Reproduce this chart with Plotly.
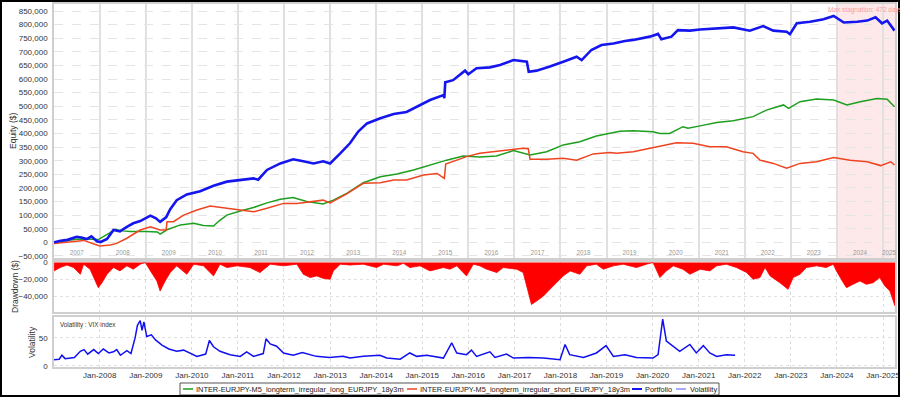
import pandas as pd
import plotly.graph_objects as go

# ---------------- data ----------------
# decimal year, equity in thousands of $
portfolio_t = [2007.01, 2007.15, 2007.3, 2007.5, 2007.6, 2007.72, 2007.82, 2007.94, 2008.02, 2008.16,
               2008.3, 2008.44, 2008.59, 2008.73, 2008.88, 2009.1, 2009.22, 2009.31, 2009.44, 2009.53,
               2009.67, 2009.89, 2010.18, 2010.47, 2010.76, 2011.05, 2011.34, 2011.44, 2011.63, 2011.92,
               2012.2, 2012.42, 2012.64, 2012.85, 2013.0, 2013.22, 2013.43, 2013.61, 2013.8, 2014.09,
               2014.38, 2014.66, 2014.88, 2015.17, 2015.46, 2015.48, 2015.5, 2015.67, 2015.93, 2016.0,
               2016.18, 2016.47, 2016.69, 2016.98, 2017.27, 2017.31, 2017.48, 2017.77, 2018.06, 2018.35,
               2018.46, 2018.67, 2018.89, 2019.15, 2019.4, 2019.58, 2019.94, 2020.12, 2020.19, 2020.41,
               2020.55, 2020.81, 2021.03, 2021.39, 2021.75, 2022.11, 2022.4, 2022.62, 2022.91, 2022.98,
               2023.13, 2023.42, 2023.71, 2023.93, 2024.15, 2024.44, 2024.66, 2024.84, 2024.98, 2025.09,
               2025.25]
portfolio_v = [0, 6, 9, 20, 18, 12, 22, 4, 1, 12,
               45, 40, 57, 70, 78, 98, 88, 75, 92, 122,
               155, 176, 188, 208, 223, 229, 235, 230, 266, 290,
               305, 298, 290, 298, 290, 327, 364, 407, 437, 456,
               472, 479, 498, 523, 541, 530, 588, 596, 631, 618,
               640, 643, 652, 670, 664, 627, 631, 646, 664, 682,
               670, 707, 725, 731, 740, 744, 756, 766, 746, 756,
               780, 778, 782, 786, 790, 778, 795, 778, 774, 765,
               805, 811, 820, 832, 808, 811, 815, 827, 805, 815,
               778]

long_t = [2007.01, 2007.3, 2007.5, 2007.86, 2007.97, 2008.2, 2008.34, 2008.5, 2008.66, 2009.0,
          2009.25, 2009.31, 2009.46, 2009.75, 2010.04, 2010.25, 2010.47, 2010.6, 2010.76, 2011.05,
          2011.34, 2011.63, 2011.92, 2012.2, 2012.49, 2012.85, 2013.07, 2013.36, 2013.72, 2014.09,
          2014.45, 2014.81, 2015.17, 2015.53, 2015.89, 2016.25, 2016.61, 2016.98, 2017.34, 2017.7,
          2018.06, 2018.42, 2018.78, 2019.29, 2019.58, 2020.01, 2020.16, 2020.37, 2020.66, 2020.77,
          2021.03, 2021.39, 2021.75, 2022.18, 2022.47, 2022.84, 2022.95, 2023.2, 2023.56, 2023.93,
          2024.22, 2024.51, 2024.87, 2025.09, 2025.25]
long_v = [0, 8, 11, 11, 10, 33, 48, 42, 40, 40,
          38, 30, 46, 64, 70, 62, 60, 80, 100, 115,
          128, 145, 158, 165, 150, 141, 155, 180, 219, 241,
          251, 266, 284, 302, 317, 314, 317, 337, 321, 333,
          358, 370, 391, 408, 410, 406, 400, 400, 425, 419,
          428, 440, 447, 462, 486, 505, 492, 517, 527, 523,
          505, 517, 529, 526, 498]

short_t = [2007.01, 2007.3, 2007.65, 2007.94, 2008.01, 2008.23, 2008.37, 2008.59, 2008.88, 2009.1,
           2009.31, 2009.44, 2009.46, 2009.6, 2009.82, 2010.11, 2010.4, 2010.76, 2011.05, 2011.34,
           2011.63, 2011.99, 2012.28, 2012.49, 2012.85, 2013.0, 2013.36, 2013.72, 2014.09, 2014.38,
           2014.66, 2015.03, 2015.32, 2015.48, 2015.51, 2015.75, 2015.96, 2016.25, 2016.54, 2016.9,
           2017.19, 2017.3, 2017.34, 2017.7, 2018.06, 2018.35, 2018.71, 2019.07, 2019.22, 2019.58,
           2020.09, 2020.52, 2020.88, 2021.24, 2021.6, 2021.96, 2022.18, 2022.33, 2022.62, 2022.91,
           2023.2, 2023.56, 2023.93, 2024.29, 2024.66, 2024.95, 2025.17, 2025.25]
short_v = [-4, 2, 7, -10, -14, -10, -4, 15, 45, 57,
           45, 45, 76, 76, 100, 119, 133, 125, 119, 112,
           125, 143, 143, 148, 155, 145, 178, 217, 219, 229,
           229, 247, 253, 235, 288, 302, 315, 327, 333, 339,
           346, 344, 305, 305, 309, 302, 325, 330, 327, 333,
           351, 366, 364, 351, 351, 333, 327, 302, 290, 272,
           290, 296, 312, 302, 296, 282, 296, 284]

# portfolio drawdown, thousands of $
dd_t = [2007.01, 2007.14, 2007.29, 2007.43, 2007.58, 2007.65, 2007.79, 2007.90, 2007.97, 2008.05,
        2008.16, 2008.30, 2008.44, 2008.59, 2008.73, 2008.88, 2008.99, 2009.10, 2009.24, 2009.31,
        2009.42, 2009.53, 2009.67, 2009.89, 2010.04, 2010.25, 2010.47, 2010.61, 2010.76, 2010.98,
        2011.26, 2011.48, 2011.70, 2011.99, 2012.28, 2012.42, 2012.57, 2012.71, 2012.86, 2013.00,
        2013.07, 2013.22, 2013.43, 2013.72, 2014.01, 2014.16, 2014.45, 2014.59, 2014.73, 2014.95,
        2015.17, 2015.46, 2015.60, 2015.75, 2015.96, 2016.11, 2016.25, 2016.40, 2016.62, 2016.76,
        2017.05, 2017.19, 2017.30, 2017.37, 2017.48, 2017.63, 2017.77, 2017.92, 2018.06, 2018.21,
        2018.42, 2018.57, 2018.78, 2018.93, 2019.15, 2019.36, 2019.65, 2019.87, 2020.01, 2020.16,
        2020.30, 2020.45, 2020.66, 2020.81, 2021.03, 2021.24, 2021.39, 2021.60, 2021.82, 2022.04,
        2022.18, 2022.33, 2022.44, 2022.55, 2022.76, 2022.94, 2023.05, 2023.20, 2023.34, 2023.56,
        2023.77, 2023.92, 2023.99, 2024.14, 2024.21, 2024.35, 2024.50, 2024.64, 2024.79, 2024.93,
        2025.04, 2025.15, 2025.26]
dd_v = [-10, -6, -3, -6, -14, -2, -8, -22, -30, -24,
        -14, -6, -10, -4, -8, -2, 0, -10, -22, -34,
        -22, -12, -4, -14, -2, -4, -16, -2, -6, -4,
        -6, -12, -2, -4, -2, -14, -18, -16, -19, -20,
        -10, -2, -3, -2, -6, -2, -4, -1, -6, -4,
        -10, -6, -8, -4, -16, -2, -4, -8, -12, -6,
        -8, -12, -34, -50, -46, -40, -32, -24, -16, -10,
        -14, -4, -2, -8, -4, -2, -6, -2, 0, -18,
        -10, -4, -8, -14, -8, -10, -4, -2, -6, -12,
        -20, -18, -6, -16, -24, -32, -18, -14, -6, -4,
        -6, -2, -10, -24, -30, -26, -22, -26, -24, -18,
        -28, -34, -52]

# VIX index
vix_t = [2007.01, 2007.12, 2007.18, 2007.25, 2007.45, 2007.58, 2007.66, 2007.74, 2007.87, 2007.97,
         2008.08, 2008.2, 2008.3, 2008.37, 2008.45, 2008.59, 2008.68, 2008.77, 2008.82, 2008.88,
         2008.92, 2008.96, 2009.02, 2009.12, 2009.21, 2009.35, 2009.5, 2009.67, 2009.82, 2009.97,
         2010.11, 2010.3, 2010.38, 2010.47, 2010.61, 2010.83, 2011.05, 2011.19, 2011.34, 2011.55,
         2011.61, 2011.7, 2011.84, 2011.99, 2012.2, 2012.4, 2012.7, 2012.99, 2013.28, 2013.43,
         2013.72, 2014.08, 2014.23, 2014.52, 2014.73, 2014.88, 2015.1, 2015.46, 2015.64, 2015.75,
         2015.96, 2016.07, 2016.18, 2016.47, 2016.58, 2016.83, 2016.98, 2017.3, 2017.63, 2017.99,
         2018.1, 2018.2, 2018.5, 2018.78, 2018.99, 2019.15, 2019.4, 2019.65, 2020.01, 2020.12,
         2020.22, 2020.3, 2020.45, 2020.59, 2020.81, 2020.95, 2021.1, 2021.24, 2021.39, 2021.6,
         2021.79]
vix_v = [11, 12, 19, 13, 15, 26, 29, 21, 29, 22,
         30, 23, 25, 29, 19, 27, 22, 50, 72, 80,
         63, 78, 52, 55, 46, 37, 30, 26, 28, 22,
         17, 21, 45, 34, 26, 20, 17, 25, 17, 22,
         48, 39, 35, 23, 19, 24, 17, 15, 17, 14,
         17, 19, 14, 12, 23, 17, 19, 14, 41, 23,
         20, 28, 17, 25, 15, 21, 14, 15, 14, 11,
         38, 20, 15, 23, 36, 17, 20, 15, 14, 20,
         83, 44, 35, 26, 38, 23, 36, 23, 17, 20,
         19]

years = list(range(2007, 2026))
names = ["INTER-EURJPY-M5_longterm_irregular_long_EURJPY_18y3m",
         "INTER-EURJPY-M5_longterm_irregular_short_EURJPY_18y3m",
         "Portfolio", "Volatility"]
axis_titles = ["Equity ($)", "Drawdown ($)", "Volatility"]
x_start, x_end = "2007-01-04", "2025-04-06"
stagnation_start = "2023-12-30"
stagnation_text = "Max stagnation: 472 days"


def to_date(d):
    y = int(d)
    return pd.Timestamp(year=y, month=1, day=1) + pd.Timedelta(days=(d - y) * 365.25)


def dates(lst):
    return [to_date(d) for d in lst]


def k(lst):
    return [v * 1000 for v in lst]


# year label positions: middle of the visible part of each year
xs, xe = pd.Timestamp(x_start), pd.Timestamp(x_end)
year_mid = []
for y in years:
    a = max(pd.Timestamp(year=y, month=1, day=1), xs)
    b = min(pd.Timestamp(year=y + 1, month=1, day=1), xe)
    year_mid.append(a + (b - a) / 2)
year_start = [pd.Timestamp(year=y, month=1, day=1) for y in years[1:]]

FONT = "Liberation Sans, Arial, sans-serif"
GREEN, RED, BLUE, LIGHTBLUE = "#1e9e1e", "#ee4420", "#1515ee", "#8c8cff"
series_colors = [GREEN, RED, BLUE, LIGHTBLUE]

fig = go.Figure()
fig.add_trace(go.Scatter(x=dates(long_t), y=k(long_v), name=names[0], mode="lines",
                         line=dict(color=GREEN, width=1.5), xaxis="x", yaxis="y"))
fig.add_trace(go.Scatter(x=dates(short_t), y=k(short_v), name=names[1], mode="lines",
                         line=dict(color=RED, width=1.5), xaxis="x", yaxis="y"))
fig.add_trace(go.Scatter(x=dates(portfolio_t), y=k(portfolio_v), name=names[2], mode="lines",
                         line=dict(color=BLUE, width=2.6), xaxis="x", yaxis="y"))
fig.add_trace(go.Scatter(x=dates(dd_t), y=k(dd_v), mode="lines", fill="tozeroy",
                         fillcolor="#ff0000", line=dict(color="#ff0000", width=0.8),
                         name="Drawdown", xaxis="x2", yaxis="y2"))
fig.add_trace(go.Scatter(x=dates(vix_t), y=vix_v, mode="lines", name=names[3],
                         line=dict(color="#1010f0", width=1.5), xaxis="x3", yaxis="y3"))

ML, MR, MT, MB = 54, 5, 4, 30
W, H = 900, 397
pw, ph = W - ML - MR, H - MT - MB


def dom(top_px, bot_px):
    return [(H - MB - bot_px) / ph, (H - MB - top_px) / ph]


def px_x(px):
    return (px - ML) / pw


def px_y(py):
    return (H - MB - py) / ph


tickfont = dict(family=FONT, size=8, color="#333333")
titlefont = dict(family=FONT, size=8.5, color="#333333")
border = dict(showline=True, mirror=True, linecolor="#cfcfcf", linewidth=1.5, automargin=False)

fig.update_layout(
    width=W, height=H,
    margin=dict(l=ML, r=MR, t=MT, b=MB, autoexpand=False),
    paper_bgcolor="white", plot_bgcolor="white",
    font=dict(family=FONT, size=8, color="#333333"),
    showlegend=False,
    xaxis=dict(domain=[0, 1], anchor="y", range=[x_start, x_end], type="date",
               tickmode="array", tickvals=year_mid, ticktext=[str(y) for y in years],
               ticklabelposition="inside", ticklabeloverflow="allow", ticks="",
               tickfont=dict(family=FONT, size=6.3, color="#999999"),
               showgrid=False, zeroline=False,
               minor=dict(tickmode="array", tickvals=year_start, showgrid=True,
                          gridcolor="#e0e0e0", gridwidth=1.5, ticks=""),
               **border),
    yaxis=dict(domain=dom(4, 258), anchor="x", range=[-57700, 876000], dtick=50000,
               tickformat=",", tickfont=tickfont, ticks="outside", ticklen=3,
               tickcolor="rgba(0,0,0,0)", gridcolor="#e4e4e4", griddash="dash",
               zeroline=False, **border),
    xaxis2=dict(domain=[0, 1], anchor="y2", range=[x_start, x_end], type="date",
                tick0="2008-01-01", dtick="M12", showticklabels=False, ticks="",
                showgrid=True, gridcolor="#dddddd", griddash="dot", zeroline=False,
                **border),
    yaxis2=dict(domain=dom(262, 312), anchor="x2", range=[-59000, 600],
                tickvals=[0, -20000, -40000], tickformat=",", tickfont=tickfont,
                ticks="outside", ticklen=3, tickcolor="rgba(0,0,0,0)",
                gridcolor="#e0e0e0", griddash="dot", zeroline=False, **border),
    xaxis3=dict(domain=[0, 1], anchor="y3", range=[x_start, x_end], type="date",
                tick0="2008-01-01", dtick="M12", tickformat="%b-%Y", tickfont=tickfont,
                ticks="", ticklabeloverflow="allow", showgrid=True, gridcolor="#dddddd",
                griddash="dot", zeroline=False, **border),
    yaxis3=dict(domain=dom(317, 367), anchor="x3", range=[-1.8, 86.6],
                tickvals=[0, 50], tickfont=tickfont, ticks="outside", ticklen=3,
                tickcolor="rgba(0,0,0,0)", gridcolor="#e0e0e0", griddash="dot",
                zeroline=False, **border),
)

# axis titles, placed where the reference has them
for text, cx, cy in zip(axis_titles, [13, 15, 32], [131, 287, 342]):
    fig.add_annotation(xref="paper", yref="paper", x=px_x(cx), y=px_y(cy),
                       xanchor="center", yanchor="middle", textangle=-90, text=text,
                       showarrow=False, font=titlefont)

# stagnation zone
fig.add_shape(type="rect", xref="x", yref="y domain", x0=stagnation_start, x1=x_end,
              y0=0, y1=1, fillcolor="#fde9e9", line=dict(width=0), layer="below")
fig.add_annotation(xref="paper", yref="paper", x=px_x(826), y=px_y(10),
                   xanchor="left", yanchor="middle", text=stagnation_text, showarrow=False,
                   font=dict(family=FONT, size=6.5, color="#ff9c9c"))
fig.add_annotation(xref="x3 domain", yref="y3 domain", x=0.005, y=0.96,
                   xanchor="left", yanchor="top", text="Volatility : VIX index",
                   showarrow=False, font=dict(family=FONT, size=6.3, color="#333333"))

# legend box (drawn as in the reference: short line keys, tight spacing)
leg_left, leg_right, leg_top, leg_bot = 180, 719, 383, 395
leg_key_x = [183, 407, 632, 676]
leg_text_x = [194, 418, 643, 688]
leg_mid = (leg_top + leg_bot) / 2
fig.add_shape(type="rect", xref="paper", yref="paper",
              x0=px_x(leg_left), x1=px_x(leg_right), y0=px_y(leg_bot), y1=px_y(leg_top),
              line=dict(color="#555555", width=1), fillcolor="white")
for name, col, kx, tx in zip(names, series_colors, leg_key_x, leg_text_x):
    fig.add_shape(type="line", xref="paper", yref="paper",
                  x0=px_x(kx), x1=px_x(kx + 10), y0=px_y(leg_mid), y1=px_y(leg_mid),
                  line=dict(color=col, width=2 if name == "Portfolio" else 1.5))
    fig.add_annotation(xref="paper", yref="paper", x=px_x(tx), y=px_y(leg_mid),
                       xanchor="left", yanchor="middle", text=name, showarrow=False,
                       font=dict(family=FONT, size=7.4, color="#222222"))

# outer black frame
fig.add_shape(type="rect", xref="paper", yref="paper",
              x0=-ML / pw, x1=1 + MR / pw, y0=-MB / ph, y1=1 + MT / ph,
              line=dict(color="black", width=4), fillcolor="rgba(0,0,0,0)", layer="above")

fig.write_html("out.html", config={"displayModeBar": False},
               post_script="document.body.style.margin='0';document.body.style.overflow='hidden';")
